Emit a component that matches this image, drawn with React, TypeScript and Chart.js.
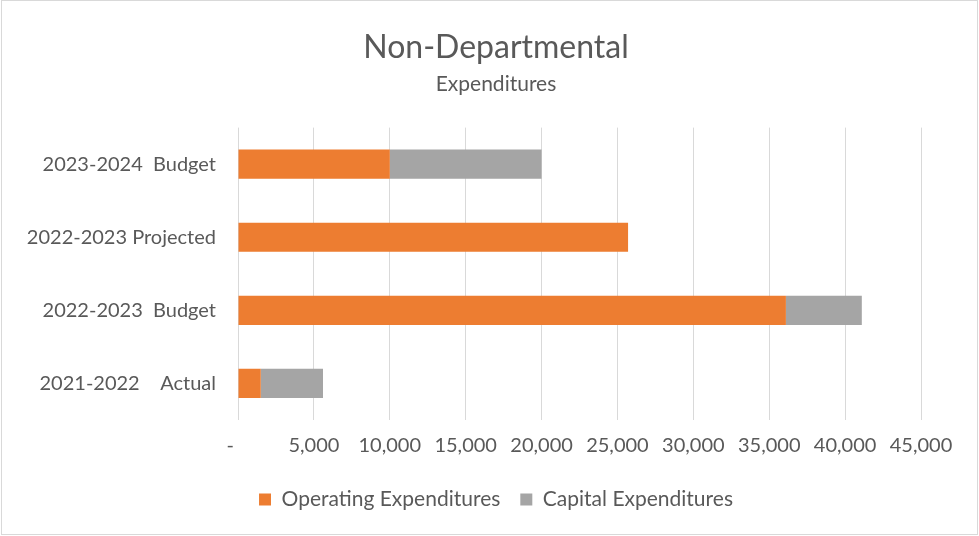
import React, { useEffect, useRef } from "react";
import { Chart, registerables } from "chart.js";

Chart.register(...registerables);

const categories = [
  "2023-2024  Budget",
  "2022-2023 Projected",
  "2022-2023  Budget",
  "2021-2022    Actual",
];
const operatingValues = [10000, 25700, 36100, 1500];
const capitalValues = [10000, 0, 5000, 4100];
const xTickLabels = ["-   ", "5,000", "10,000", "15,000", "20,000", "25,000", "30,000", "35,000", "40,000", "45,000"];

const FONT = "Lato";
const TEXT = "#595959";

const bgPlugin = {
  id: "bgBorder",
  beforeDraw(chart: any) {
    const { ctx, width, height } = chart;
    ctx.save();
    ctx.fillStyle = "#ffffff";
    ctx.fillRect(0, 0, width, height);
    ctx.strokeStyle = "#d9d9d9";
    ctx.lineWidth = 1;
    ctx.strokeRect(1.5, 0.5, width - 3, height - 2);
    ctx.restore();
  },
};

export default function App() {
  const ref = useRef<HTMLCanvasElement>(null);
  useEffect(() => {
    document.body.style.margin = "0";
    if (!ref.current) return;
    const chart = new Chart(ref.current, {
      type: "bar",
      data: {
        labels: categories,
        datasets: [
          {
            label: "Operating Expenditures",
            data: operatingValues,
            backgroundColor: "#ED7D31",
            barPercentage: 0.4,
            categoryPercentage: 1,
          },
          {
            label: "Capital Expenditures",
            data: capitalValues,
            backgroundColor: "#A5A5A5",
            barPercentage: 0.4,
            categoryPercentage: 1,
          },
        ],
      },
      options: {
        indexAxis: "y",
        animation: false,
        responsive: false,
        maintainAspectRatio: false,
        layout: { padding: { left: 13, right: 0, top: 0, bottom: 16 } },
        scales: {
          x: {
            stacked: true,
            min: 0,
            max: 45000,
            ticks: {
              stepSize: 5000,
              padding: 14,
              color: TEXT,
              font: { family: FONT, size: 20 },
              maxRotation: 0,
              autoSkip: false,
              callback: (_v: any, i: number) => xTickLabels[i],
            },
            grid: { color: "#d9d9d9", lineWidth: 1, drawTicks: false },
            border: { display: false },
            afterFit: (scale: any) => {
              scale.height = 49;
            },
          },
          y: {
            stacked: true,
            ticks: {
              padding: 22,
              color: TEXT,
              font: { family: FONT, size: 20 },
            },
            grid: { display: false, drawTicks: false },
            border: { display: false },
            afterFit: (scale: any) => {
              scale.width = 225;
            },
          },
          yRight: {
            type: "linear",
            position: "right",
            display: true,
            ticks: { display: false },
            grid: { display: false, drawTicks: false },
            border: { display: false },
            afterFit: (scale: any) => {
              scale.width = 58;
            },
          },
        },
        plugins: {
          title: {
            display: true,
            text: "Non-Departmental",
            color: TEXT,
            font: { family: FONT, size: 32, weight: "normal" },
            padding: { top: 28, bottom: 2 },
          },
          subtitle: {
            display: true,
            text: "Expenditures",
            color: TEXT,
            font: { family: FONT, size: 21, weight: "normal" },
            padding: { top: 3, bottom: 31 },
          },
          legend: {
            position: "bottom",
            labels: {
              boxWidth: 12,
              boxHeight: 12,
              padding: 20,
              color: TEXT,
              font: { family: FONT, size: 21 },
            },
          },
          tooltip: { enabled: false },
        },
      },
      plugins: [bgPlugin],
    });
    return () => chart.destroy();
  }, []);
  return <canvas ref={ref} width={979} height={536} style={{ display: "block" }} />;
}
